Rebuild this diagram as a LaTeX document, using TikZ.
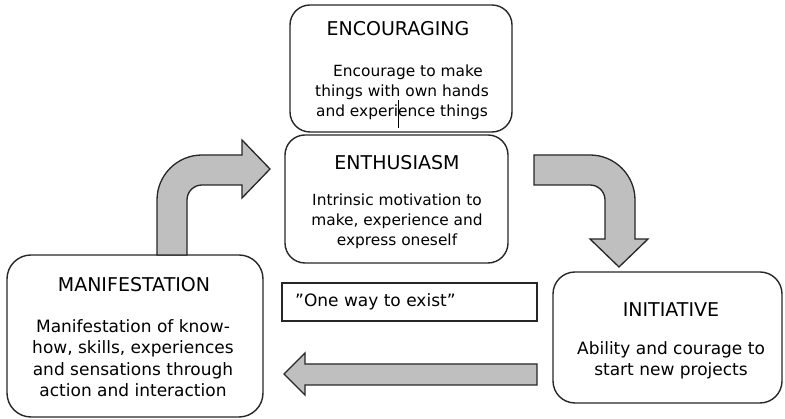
\documentclass[tikz,border=0pt]{standalone}
\usepackage{fontspec}
\setmainfont{DejaVu Sans}
\begin{document}
\begin{tikzpicture}[x=1pt, y=1pt,
    box/.style={draw=black!85, line width=1.4pt, rounded corners=20pt, inner sep=0pt},
    plainbox/.style={draw=black!85, line width=1.2pt, inner sep=0pt},
    blockarrow/.style={draw=black!85, line width=1.3pt, fill=gray!50, line join=miter},
    title/.style={anchor=base, inner sep=0pt, font=\fontsize{19}{23}\selectfont},
    smalltxt/.style={anchor=base, inner sep=0pt, align=center, font=\fontsize{15.4}{20}\selectfont},
    bigtxt/.style={anchor=base, inner sep=0pt, align=center, font=\fontsize{17}{21.5}\selectfont}]
    \useasboundingbox (0,0) rectangle (785,419);

    % Boxes
    \node[box, minimum width=222pt, minimum height=127pt] (enc) at (401,350.5) {};
    \node[box, minimum width=223pt, minimum height=128pt] (ent) at (396.5,220) {};
    \node[box, rounded corners=24pt, minimum width=256pt, minimum height=162pt] (man) at (135,83) {};
    \node[box, rounded corners=22pt, minimum width=229pt, minimum height=131pt] (ini) at (667.5,81.5) {};
    \node[plainbox, minimum width=255pt, minimum height=38pt] (way) at (409.5,117) {};

    % Titles
    \node[title] (enctitle) at (398,383) {ENCOURAGING};
    \node[title] (enttitle) at (397,249) {ENTHUSIASM};
    \node[title] (mantitle) at (134,127) {MANIFESTATION};
    \node[title] (inititle) at (671,102) {INITIATIVE};

    % Texts (base = last line)
    \node[smalltxt] (enctext) at (402,302) {\hspace*{12pt}Encourage to make\\things with own hands\\and experience things};
    \node[smalltxt] (enttext) at (397,173) {Intrinsic motivation to\\make, experience and\\express oneself};
    \node[bigtxt] (mantext) at (133,22) {Manifestation of know-\\how, skills, experiences\\and sensations through\\action and interaction};
    \node[bigtxt] (initext) at (671,43) {Ability and courage to\\start new projects};
    \node[bigtxt, align=left, anchor=base west] (waytext) at (295,112) {”One way to exist”};

    % Cursor mark
    \draw[line width=1pt] (398,319) -- (398,291);

    % Arrows
    \draw[blockarrow] (157,164) -- (157,219) arc (180:90:45) -- (242,264) -- (242,279)
        -- (270,250) -- (242,221) -- (242,234) -- (202,234) arc (90:180:15) -- (187,164) -- cycle;
    \draw[blockarrow] (534,264) -- (590,264) arc (90:0:45) -- (635,180) -- (648,180)
        -- (619,152) -- (590,180) -- (605,180) -- (605,219) arc (0:90:15) -- (534,234) -- cycle;
    \draw[blockarrow] (537,55) -- (305,55) -- (305,66) -- (284,45) -- (305,24) -- (305,34)
        -- (537,34) -- cycle;

\end{tikzpicture}
\end{document}
